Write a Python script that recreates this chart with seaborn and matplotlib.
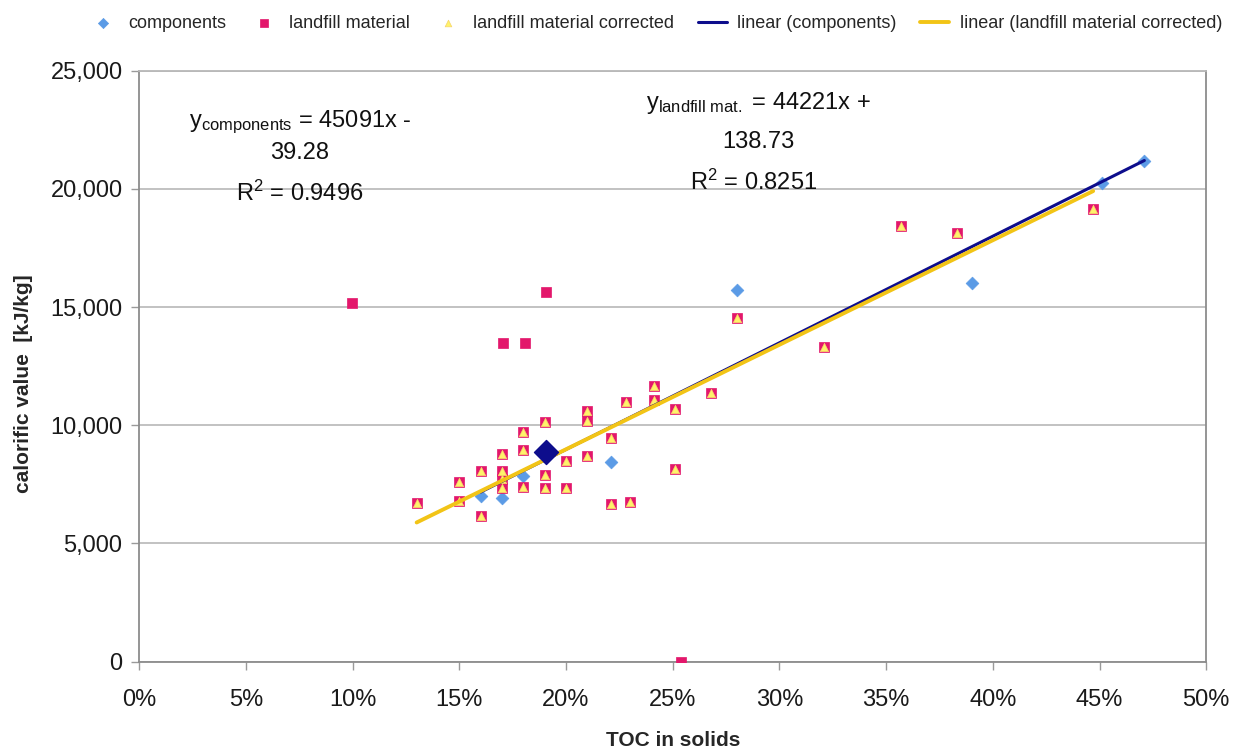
import numpy as np
import pandas as pd
import matplotlib
matplotlib.use("Agg")
import matplotlib.pyplot as plt
import seaborn as sns
from matplotlib.ticker import PercentFormatter, FuncFormatter, MultipleLocator

# ---------------- data (TOC as fraction, calorific value kJ/kg) ----------------
comp_x = [0.160, 0.170, 0.180, 0.221, 0.280, 0.390, 0.451, 0.471]
comp_y = [7010, 6920, 7850, 8460, 15720, 16010, 20250, 21170]

highlight_x = [0.1905]
highlight_y = [8885]

# landfill material points that were corrected (pink square + yellow triangle)
corr_x = [0.130, 0.150, 0.150, 0.160, 0.160, 0.170, 0.170, 0.170, 0.170,
          0.180, 0.180, 0.180, 0.190, 0.190, 0.190, 0.200, 0.200,
          0.210, 0.210, 0.210, 0.221, 0.221, 0.228, 0.230, 0.241, 0.241,
          0.251, 0.251, 0.268, 0.280, 0.321, 0.357, 0.383, 0.447]
corr_y = [6725, 7590, 6800, 8080, 6175, 8770, 8070, 7720, 7335,
          9700, 8955, 7400, 10130, 7900, 7335, 8480, 7360,
          10620, 10195, 8715, 9450, 6670, 10970, 6770, 11675, 11070,
          10675, 8150, 11350, 14540, 13310, 18430, 18130, 19150]

# landfill material points only present uncorrected
lf_extra_x = [0.0995, 0.1706, 0.1806, 0.1908, 0.254]
lf_extra_y = [15170, 13470, 13470, 15640, 0]

lf_x = lf_extra_x + corr_x
lf_y = lf_extra_y + corr_y

# trend line coefficients (from the chart's equations)
comp_slope, comp_icpt = 45091, -39.28
corr_slope, corr_icpt = 44221, 138.73

x_ticks = [0.0, 0.05, 0.10, 0.15, 0.20, 0.25, 0.30, 0.35, 0.40, 0.45, 0.50]
y_ticks = [0, 5000, 10000, 15000, 20000, 25000]

# ---------------- style ----------------
sns.set_theme(style="white")
plt.rcParams['font.family'] = ['Liberation Sans', 'DejaVu Sans']
plt.rcParams['mathtext.fontset'] = 'custom'
plt.rcParams['mathtext.rm'] = 'Liberation Sans'
plt.rcParams['mathtext.it'] = 'Liberation Sans:italic'
plt.rcParams['mathtext.bf'] = 'Liberation Sans:bold'

C_COMP = '#5B9BE6'
C_PINK = '#E3176B'
C_YEL = '#FFF36A'
C_NAVY = '#0D0D8C'
C_LINEY = '#F2C416'

fig = plt.figure(figsize=(12.41, 7.53), dpi=100)
ax = fig.add_axes([0.1122, 0.1213, 0.8598, 0.7849])

# trend lines
cx = np.array([min(comp_x), max(comp_x)])
lx = np.array([min(corr_x), max(corr_x)])
sns.lineplot(x=cx, y=comp_slope * cx + comp_icpt, color=C_NAVY, lw=2.2,
             ax=ax, label='linear (components)', zorder=5)
sns.lineplot(x=lx, y=corr_slope * lx + corr_icpt, color=C_LINEY, lw=2.8,
             ax=ax, label='linear (landfill material corrected)', zorder=6)

# markers
sns.scatterplot(x=comp_x, y=comp_y, marker='D', s=42, color=C_COMP,
                edgecolor=C_COMP, linewidth=0.5, ax=ax, label='components', zorder=3)
sns.scatterplot(x=lf_x, y=lf_y, marker='s', s=52, color=C_PINK,
                edgecolor=C_PINK, linewidth=0.5, ax=ax, label='landfill material', zorder=3)
sns.scatterplot(x=corr_x, y=corr_y, marker='^', s=36, color=C_YEL,
                edgecolor='#F6D36A', linewidth=0.5, ax=ax,
                label='landfill material corrected', zorder=4)
sns.scatterplot(x=highlight_x, y=highlight_y, marker='D', s=150, color=C_NAVY,
                edgecolor=C_NAVY, ax=ax, legend=False, zorder=7)

# axes
ax.set_xlim(0, 0.50)
ax.set_ylim(0, 25000)
ax.set_xticks(x_ticks)
ax.set_yticks(y_ticks)
ax.xaxis.set_major_formatter(PercentFormatter(1.0, decimals=0))
ax.yaxis.set_major_formatter(FuncFormatter(lambda v, p: f"{int(v):,}"))
ax.tick_params(axis='both', labelsize=17, length=6,
               width=1, direction='out', bottom=True, left=True)
ax.tick_params(axis='x', pad=14, colors='#9a9a9a', labelcolor='#1a1a1a')
ax.tick_params(axis='y', pad=6, colors='#9a9a9a', labelcolor='#1a1a1a')
ax.yaxis.grid(True, color='#b8b8b8', lw=1.2)
ax.xaxis.grid(False)
for side in ['left', 'bottom', 'right', 'top']:
    ax.spines[side].set_color('#8c8c8c')
    ax.spines[side].set_linewidth(1.3)
ax.spines['top'].set_color('#b8b8b8')

ax.set_xlabel('TOC in solids', fontsize=15, fontweight='bold', labelpad=14)
ax.set_ylabel('calorific value  [kJ/kg]', fontsize=15, fontweight='bold')
ax.yaxis.set_label_coords(-0.1, 0.47)

# equation annotations
kw = dict(ha='center', va='center', fontsize=17, color='#111111')
ax.text(0.0753, 22830, r'y$_{\mathrm{components}}$ = 45091x -', **kw)
ax.text(0.0753, 21520, '39.28', **kw)
ax.text(0.0753, 19830, r'R$^{2}$ = 0.9496', **kw)
ax.text(0.2899, 23630, r'y$_{\mathrm{landfill\ mat.}}$ = 44221x +', **kw)
ax.text(0.2899, 21980, '138.73', **kw)
ax.text(0.2880, 20290, r'R$^{2}$ = 0.8251', **kw)

# legend on top
h, l = ax.get_legend_handles_labels()
order = ['components', 'landfill material', 'landfill material corrected',
         'linear (components)', 'linear (landfill material corrected)']
hd = dict(zip(l, h))
ax.get_legend().remove()
fig.legend([hd[k] for k in order], order, loc='center', ncol=5,
           bbox_to_anchor=(0.528, 0.969), frameon=False, fontsize=13,
           handlelength=1.6, columnspacing=1.3, handletextpad=0.6,
           markerscale=0.8)

fig.savefig('out.png', dpi=100, facecolor='white')
